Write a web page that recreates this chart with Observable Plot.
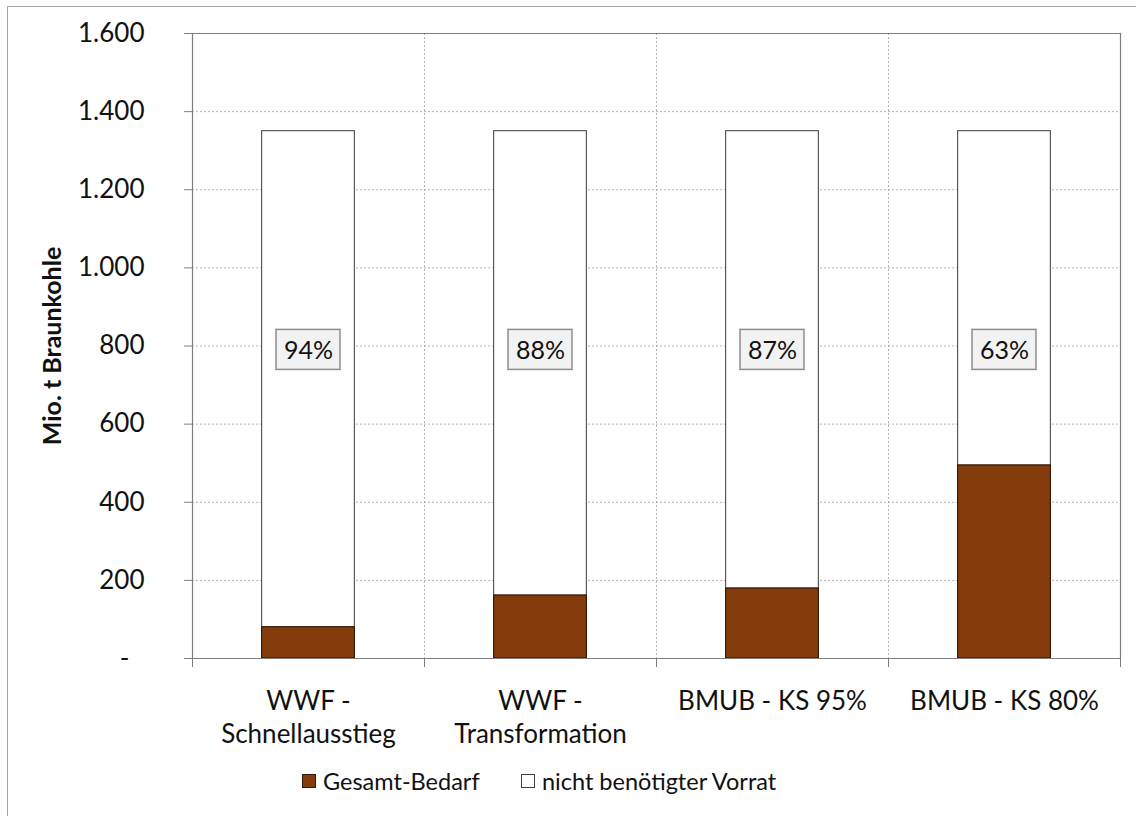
<!DOCTYPE html>
<html>
<head>
<meta charset="utf-8">
<script src="https://cdn.jsdelivr.net/npm/d3@7"></script>
<script src="https://cdn.jsdelivr.net/npm/@observablehq/plot@0.6"></script>
<style>
  html, body { margin: 0; padding: 0; background: #fff; }
  #wrap { position: relative; width: 1136px; height: 816px; overflow: hidden; font-family: Lato, "Open Sans", sans-serif; }
  #frame { position: absolute; left: 7px; top: 6px; width: 1140px; height: 830px; border: 1px solid #a6a6a6; box-sizing: border-box; }
  #chart { position: absolute; left: 0; top: 0; }
  #legend { position: absolute; left: 0; top: 781px; width: 1136px; display: flex; align-items: center; font-size: 23.5px; color: #111; }
  .item { display: flex; align-items: center; position: absolute; }
  .sw { width: 14px; height: 14px; box-sizing: border-box; margin-right: 7px; }
</style>
</head>
<body>
<div id="wrap">
  <div id="frame"></div>
  <div id="chart"></div>
  <div id="legend"></div>
</div>
<script>
const categories = ["WWF -\nSchnellausstieg", "WWF -\nTransformation", "BMUB - KS 95%", "BMUB - KS 80%"];
const demand = [80, 161, 179, 494];
const totalReserve = [1350, 1350, 1350, 1350];
const pctLabels = ["94%", "88%", "87%", "63%"];
const yTicks = [0, 200, 400, 600, 800, 1000, 1200, 1400, 1600];
const seriesNames = ["Gesamt-Bedarf", "nicht benötigter Vorrat"];
const seriesColors = ["#843C0C", "#ffffff"];
const seriesStrokes = ["#3b1a04", "#595959"];

const rows = categories.map((c, i) => ({
  i, cat: c, demand: demand[i], total: totalReserve[i], pct: pctLabels[i]
}));

const de = d3.formatLocale({decimal: ",", thousands: ".", grouping: [3], currency: ["", "€"]});
const fmt = de.format(",");

const W = 1136, H = 762;
const n = categories.length;
const barInset = 0.3 * (W - 192 - 16) / n;
const labelY = 790;

const chart = Plot.plot({
  width: W,
  height: H,
  marginLeft: 192,
  marginRight: 16,
  marginTop: 33,
  marginBottom: H - 658,
  style: {fontFamily: "Lato, 'Open Sans', sans-serif", fontSize: "26px", color: "#111", background: "transparent", overflow: "visible"},
  x: {domain: [0, n], axis: null},
  y: {domain: [0, 1600], axis: null},
  marks: [
    // gridlines
    Plot.ruleY(yTicks.filter(d => d > 0 && d < 1600), {stroke: "#b3b3b3", strokeDasharray: "2,2", strokeWidth: 1}),
    Plot.ruleX(d3.range(1, n), {stroke: "#b3b3b3", strokeDasharray: "2,2", strokeWidth: 1}),
    // frame top/right
    Plot.ruleY([1600], {stroke: "#7f7f7f", strokeWidth: 1.2}),
    Plot.ruleX([n], {stroke: "#7f7f7f", strokeWidth: 1.2}),
    // reserve (white) segments
    Plot.rect(rows, {x1: d => d.i, x2: d => d.i + 1, y1: "demand", y2: "total",
      insetLeft: barInset, insetRight: barInset, fill: seriesColors[1], stroke: seriesStrokes[1], strokeWidth: 1.2}),
    // demand (brown) segments
    Plot.rect(rows, {x1: d => d.i, x2: d => d.i + 1, y1: 0, y2: "demand",
      insetLeft: barInset, insetRight: barInset, fill: seriesColors[0], stroke: seriesStrokes[0], strokeWidth: 1.2}),
    // percentage label boxes
    Plot.rect(rows, {x1: d => d.i + 0.5, x2: d => d.i + 0.5, y1: labelY, y2: labelY,
      insetLeft: -32, insetRight: -32, insetTop: -20, insetBottom: -20,
      fill: "#f2f2f2", stroke: "#8c8c8c", strokeWidth: 1.5}),
    Plot.text(rows, {x: d => d.i + 0.5, y: labelY, text: "pct", fontSize: 25, fill: "#111", dy: 1}),
    // axes lines
    Plot.ruleX([0], {stroke: "#7f7f7f", strokeWidth: 1.2}),
    Plot.ruleY([0], {stroke: "#7f7f7f", strokeWidth: 1.2}),
    // y axis
    Plot.axisY({ticks: yTicks, tickSize: 8, tickPadding: 40, stroke: "#7f7f7f",
      tickFormat: d => d === 0 ? "-\u2007" : fmt(d), fontSize: 26, fill: "#111", label: null}),
    Plot.text(["Mio. t Braunkohle"], {frameAnchor: "left", textAnchor: "middle", dx: -140, rotate: -90, fontWeight: "bold", fontSize: 25, fill: "#111"}),
    // x axis ticks at boundaries
    Plot.axisX({ticks: d3.range(0, n + 1), tickSize: 9, tickFormat: () => "", stroke: "#7f7f7f", label: null}),
    // x labels
    Plot.axisX({ticks: d3.range(0, n).map(i => i + 0.5), tickSize: 0, tickPadding: 28,
      tickFormat: v => categories[Math.floor(v)], fontSize: 26, fill: "#111", lineHeight: 1.27, label: null})
  ]
});
document.getElementById("chart").appendChild(chart);

// legend
const legend = document.getElementById("legend");
const legendX = [302, 521];
seriesNames.forEach((name, i) => {
  const it = document.createElement("div");
  it.className = "item";
  it.style.left = legendX[i] + "px";
  const sw = document.createElement("span");
  sw.className = "sw";
  sw.style.background = seriesColors[i];
  sw.style.border = "1px solid " + (i === 0 ? "#3b1a04" : "#404040");
  const t = document.createElement("span");
  t.textContent = name;
  it.appendChild(sw);
  it.appendChild(t);
  legend.appendChild(it);
});
</script>
</body>
</html>
